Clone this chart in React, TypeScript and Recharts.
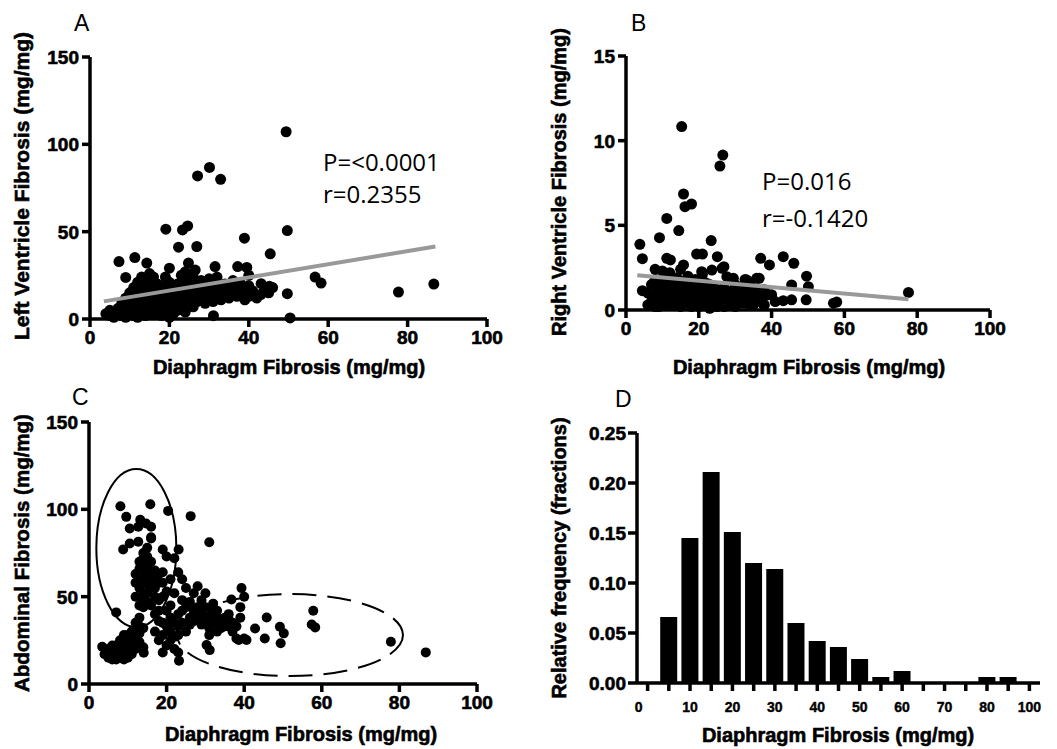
import React from 'react';
import {
  ScatterChart, Scatter, BarChart, Bar, XAxis, YAxis, ReferenceDot,
} from 'recharts';

// Panel A: diaphragm vs left ventricle fibrosis
const lvPoints: [number, number][] = [
  [4, 3], [5, 2], [5, 5], [6, 1], [6, 4], [7, 3], [7, 6], [8, 2], [8, 5], [8, 9], [9, 1], [9, 4], [9, 7], [9, 12],
  [10, 3], [10, 6], [10, 10], [10, 15], [11, 2], [11, 5], [11, 8], [11, 13], [11, 18], [12, 1], [12, 4], [12, 7],
  [12, 11], [12, 16], [12, 21], [13, 3], [13, 6], [13, 9], [13, 14], [13, 19], [13, 24], [14, 2], [14, 5], [14, 8],
  [14, 12], [14, 17], [14, 22], [15, 4], [15, 10], [15, 15], [15, 20], [15, 26], [16, 3], [16, 7], [16, 12], [16, 18],
  [16, 24], [17, 5], [17, 9], [17, 14], [17, 20], [18, 2], [18, 6], [18, 11], [18, 16], [19, 4], [19, 8], [19, 13],
  [19, 19], [19, 24], [20, 1], [20, 6], [20, 10], [20, 15], [20, 21], [21, 3], [21, 8], [21, 12], [21, 18], [22, 5],
  [22, 10], [22, 14], [22, 20], [23, 7], [23, 12], [23, 17], [23, 25], [24, 4], [24, 9], [24, 14], [24, 20], [24, 27],
  [25, 10], [25, 16], [25, 23], [26, 7], [26, 13], [26, 19], [26, 24], [27, 10], [27, 16], [28, 12], [28, 18], [28, 22],
  [29, 9], [29, 14], [29, 20], [30, 12], [30, 17], [30, 23], [31, 10], [31, 15], [31, 20], [32, 13], [32, 18], [32, 24],
  [33, 11], [33, 16], [34, 14], [34, 20], [35, 12], [35, 17], [36, 15], [36, 22], [37, 13], [37, 18], [38, 14], [38, 20],
  [39, 11], [39, 17], [40, 13], [40, 19], [40, 25], [41, 16], [42, 12], [43, 14], [44, 17], [45, 15], [46, 18],
  [49.4, 107.2], [30.1, 86.8], [27.1, 81.9], [32.9, 80], [19.1, 51.4], [23.3, 51], [24.6, 53.3], [22.3, 41.1],
  [26.9, 41.5], [38.9, 46.3], [49.7, 50.6], [45.4, 37.3], [7.3, 32.9], [11.3, 35.2], [14.3, 32], [9, 23.8], [20, 29.1],
  [37.2, 30], [39.5, 29.5], [31.5, 30], [56.7, 24], [58.2, 20.6], [77.7, 15.4], [86.6, 20], [49.7, 14.5], [50.4, 0.6],
  [31.1, 1.9], [43.1, 20.2], [45.2, 18.7], [24.8, 32], [26.5, 28],
];
const lvFit = [{ x: 3.5, y: 10.1 }, { x: 87, y: 41.5 }];

// Panel B: diaphragm vs right ventricle fibrosis
const rvPoints: [number, number][] = [
  [6, 0.3], [6, 1.0], [7, 0.5], [7, 1.5], [8, 0.2], [8, 0.9], [8, 1.8], [9, 0.4], [9, 1.2], [10, 0.7], [10, 1.6],
  [10, 2.3], [11, 0.3], [11, 1.0], [11, 1.9], [12, 0.5], [12, 1.3], [12, 2.2], [13, 0.8], [13, 1.6], [14, 0.3],
  [14, 1.1], [14, 1.9], [15, 0.6], [15, 1.4], [15, 2.4], [16, 0.9], [16, 1.7], [17, 0.4], [17, 1.2], [17, 2.0],
  [18, 0.7], [18, 1.5], [19, 0.3], [19, 1.0], [19, 1.8], [20, 0.6], [20, 1.3], [21, 0.9], [21, 2.1], [22, 0.4],
  [22, 1.1], [23, 0.1], [23, 0.7], [23, 1.5], [24, 0.3], [24, 1.0], [25, 0.6], [25, 1.2], [26, 0.4], [26, 0.9],
  [27, 1.3], [27, 0.2], [28, 0.7], [29, 1.1], [29, 0.4], [30, 0.8], [30, 1.5], [31, 0.5], [31, 1.2], [32, 0.9],
  [33, 0.4], [33, 1.4], [34, 0.8], [35, 1.2], [35, 0.3], [36, 0.7], [38, 1.2], [38, 0.9], [40, 0.9], [41, 0.5],
  [7, 0.9], [9, 0.2], [9, 1.7], [10, 1.1], [11, 0.6], [11, 1.4], [12, 0.9], [12, 1.7], [13, 0.3], [13, 1.2], [14, 0.7],
  [14, 1.5], [15, 0.2], [15, 1.0], [16, 0.5], [16, 1.3], [17, 0.8], [17, 1.6], [18, 0.2], [18, 1.1], [19, 0.6],
  [19, 1.4], [20, 0.2], [20, 0.9], [20, 1.7], [21, 0.5], [21, 1.3], [22, 0.8], [22, 1.6], [24, 0.7], [24, 1.4],
  [25, 0.2], [25, 0.9], [26, 1.2], [27, 0.6], [28, 0.3], [28, 1.0], [29, 0.7], [30, 0.2], [30, 1.1], [31, 0.8],
  [32, 0.4], [32, 1.3], [33, 0.9], [34, 0.3], [34, 1.5], [35, 0.7], [36, 1.1], [37, 0.6], [38, 0.3], [39, 0.9],
  [15.3, 10.83], [26.6, 9.15], [25.8, 8.5], [15.8, 6.85], [16.2, 6.1], [18, 6.26], [11.2, 5.41], [14.5, 4.69],
  [9.2, 4.27], [3.8, 3.88], [4.5, 3.03], [23.4, 4.1], [19.4, 3.3], [21, 3.3], [25.1, 3.15], [37, 3.05], [39.4, 2.66],
  [43.2, 3.15], [46.1, 2.76], [49.6, 2.0], [77.6, 1.04], [4.5, 1.14], [11.2, 3.05], [8, 2.4], [15.8, 2.66],
  [26.9, 2.56], [57.9, 0.47], [57, 0.4], [45.5, 0.6], [43.2, 0.55], [49.5, 0.6], [50.1, 1.38], [45.5, 1.48],
  [36.6, 1.87], [37.7, 0.35], [32.7, 1.8], [29.5, 1.87], [12.2, 2.96], [20.8, 2.26], [23.6, 2.36], [26.4, 2.46],
  [27.7, 1.97], [33.2, 1.77], [35.9, 1.87],
];
const rvFit = [{ x: 3.1, y: 2.05 }, { x: 77.6, y: 0.63 }];

// Panel C: diaphragm vs abdominal fibrosis
const abdPoints: [number, number][] = [
  [4, 17], [5, 15], [5, 20], [6, 16], [6, 19], [7, 14], [7, 18], [7, 22], [8, 15], [8, 20], [8, 25], [9, 16], [9, 19],
  [9, 28], [10, 15], [10, 21], [10, 25], [11, 17], [11, 22], [11, 30], [12, 20], [12, 26], [12, 35], [13, 24], [13, 29],
  [13, 38], [14, 21], [14, 32], [14, 44], [12, 50], [12, 58], [12, 63], [13, 66], [13, 70], [13, 55], [14, 48], [14, 60],
  [14, 72], [14, 75], [15, 52], [15, 57], [15, 62], [15, 68], [15, 78], [16, 45], [16, 55], [16, 64], [16, 84], [17, 40],
  [17, 60], [17, 65], [18, 36], [18, 48], [18, 63], [19, 58], [19, 64], [19, 77], [20, 33], [20, 42], [20, 53], [20, 73],
  [17, 30], [18, 25], [19, 18], [19, 28], [20, 22], [21, 25], [21, 38], [21, 60], [22, 27], [22, 20], [22, 52], [22, 72],
  [23, 18], [23, 33], [23, 40], [23, 64], [24, 35], [24, 48], [24, 60], [25, 30], [25, 44], [25, 55], [26, 38], [26, 47],
  [27, 42], [27, 52], [28, 39], [28, 56], [29, 40], [29, 48], [30, 36], [30, 44], [30, 52], [31, 32], [31, 39], [31, 28],
  [32, 35], [32, 42], [32, 46], [33, 30], [33, 38], [34, 36], [35, 38], [36, 33], [36, 37], [37, 30], [38, 33], [38, 26],
  [39, 38], [39, 44], [40, 26], [40, 50],
  [5, 18], [6, 14], [6, 22], [7, 16], [7, 20], [8, 17], [8, 23], [9, 14], [9, 22], [10, 18], [10, 28], [11, 19], [11, 26],
  [12, 23], [12, 30], [13, 33], [13, 45], [13, 60], [14, 52], [14, 65], [14, 68], [15, 47], [15, 73], [16, 58], [16, 70],
  [17, 50], [17, 55], [18, 42], [18, 58], [19, 35], [19, 50], [21, 30], [21, 45], [22, 35], [23, 28], [24, 42], [26, 34],
  [27, 36], [28, 44], [29, 34], [33, 42], [34, 32], [35, 33], [36, 40], [37, 35],
  [8.1, 101.8], [15.8, 102.9], [20.4, 99.1], [26.2, 96.1], [9.6, 95.7], [31, 81.2], [8.8, 77], [23.1, 77], [39.3, 54.9],
  [7, 41], [36.7, 48.4], [45.8, 38.1], [57.8, 41.9], [57.4, 34.1], [58.3, 32.4], [77.8, 24.2], [86.8, 18.1], [49.2, 32.8],
  [50.2, 29], [49.4, 23.3], [42.8, 31.8], [45.3, 26.1], [40.6, 25.2], [38.6, 25.2], [30.3, 22.3], [31.1, 19.4],
  [14.1, 17.9], [23.2, 13.3], [3.4, 21.3], [12.7, 90], [10.5, 89], [13.2, 94], [14.7, 91.9], [16, 90], [16, 83.3],
  [10.5, 80.4], [12.7, 81.4],
];

// Panel D: histogram of diaphragm fibrosis
const histBins = [0, 5, 10, 15, 20, 25, 30, 35, 40, 45, 50, 55, 60, 65, 70, 75, 80, 85, 90];
const histFreq = [0, 0.066, 0.145, 0.211, 0.151, 0.12, 0.114, 0.06, 0.042, 0.036, 0.024, 0.006, 0.012, 0, 0, 0, 0.006, 0.006, 0];
const histTickLabels = ['0', '', '10', '', '20', '', '30', '', '40', '', '50', '', '60', '', '70', '', '80', '', '100'];

const xTicks = [0, 20, 40, 60, 80, 100];

const FONT = '"Liberation Sans", Arial, Helvetica, sans-serif';
// the source figure has heavy, slightly blurred type: a thin stroke thickens the glyphs
const heavy = { stroke: '#000', strokeWidth: 0.6 };

const toXY = (pts: [number, number][]) => pts.map(([x, y]) => ({ x, y }));

const dot = (r: number) => (p: any) => <circle cx={p.cx} cy={p.cy} r={r} fill="#000" />;
const noDot = () => <g />;

const XTick = (props: any) => (
  <text x={props.x} y={props.y + 15} textAnchor="middle" fontSize={19} fontWeight={700} fontFamily={FONT} fill="#000" {...heavy}>
    {props.payload.value}
  </text>
);

const YTick = (props: any) => {
  const v = props.payload.value;
  return (
    <text x={props.x} y={props.y + 7} textAnchor="end" fontSize={19} fontWeight={700} fontFamily={FONT} fill="#000" {...heavy}>
      {props.decimals ? v.toFixed(props.decimals) : v}
    </text>
  );
};

const HistTick = (props: any) => {
  const { x, y, payload } = props;
  const i = histBins.indexOf(payload.value);
  return (
    <text x={x + (i === 0 ? -9 : 0)} y={y + 19} textAnchor="middle" fontSize={14} fontWeight={700} fontFamily={FONT}
      fill="#000" stroke="#000" strokeWidth={0.4}>
      {histTickLabels[i]}
    </text>
  );
};

const axisProps = {
  stroke: '#000',
  strokeWidth: 3.5,
  axisLine: { stroke: '#000', strokeWidth: 3.5 },
  tickLine: { stroke: '#000', strokeWidth: 3.5 },
  tickSize: 8,
};

const App: React.FC = () => {
  const histData = histBins.map((bin, i) => ({ bin, freq: histFreq[i] }));

  return (
    <div style={{ position: 'absolute', left: 0, top: 0, width: 1057, height: 749, background: '#fff' }}>
      {/* A */}
      <div style={{ position: 'absolute', left: 0, top: 0 }}>
        <ScatterChart width={510} height={350} margin={{ top: 57, right: 23, bottom: 1, left: 40 }}>
          <XAxis type="number" dataKey="x" domain={[0, 100]} ticks={xTicks} height={30} tick={<XTick />} {...axisProps} />
          <YAxis type="number" dataKey="y" domain={[0, 150]} ticks={[0, 50, 100, 150]} width={50} tick={<YTick />}
            {...axisProps} tickMargin={3} />
          <Scatter data={toXY(lvPoints)} shape={dot(5.5)} isAnimationActive={false} />
          <Scatter data={lvFit} line={{ stroke: '#999', strokeWidth: 4 }} shape={noDot} isAnimationActive={false} />
        </ScatterChart>
      </div>

      {/* B */}
      <div style={{ position: 'absolute', left: 520, top: 0 }}>
        <ScatterChart width={510} height={350} margin={{ top: 56, right: 40, bottom: 10, left: 56 }}>
          <XAxis type="number" dataKey="x" domain={[0, 100]} ticks={xTicks} height={30} tick={<XTick />} {...axisProps} />
          <YAxis type="number" dataKey="y" domain={[0, 15]} ticks={[0, 5, 10, 15]} width={50} tick={<YTick />}
            {...axisProps} tickMargin={3} />
          <Scatter data={toXY(rvPoints)} shape={dot(5.5)} isAnimationActive={false} />
          <Scatter data={rvFit} line={{ stroke: '#999', strokeWidth: 4 }} shape={noDot} isAnimationActive={false} />
        </ScatterChart>
      </div>

      {/* C */}
      <div style={{ position: 'absolute', left: 0, top: 375 }}>
        <ScatterChart width={510} height={374} margin={{ top: 47, right: 33, bottom: 35, left: 39 }}>
          <XAxis type="number" dataKey="x" domain={[0, 100]} ticks={xTicks} height={30} tick={<XTick />} {...axisProps} />
          <YAxis type="number" dataKey="y" domain={[0, 150]} ticks={[0, 50, 100, 150]} width={50} tick={<YTick />}
            {...axisProps} tickMargin={3} />
          <ReferenceDot x={12.2} y={77.8} r={1}
            shape={(p: any) => <ellipse cx={p.cx} cy={p.cy} rx={40} ry={79} fill="none" stroke="#000" strokeWidth={2} />} />
          <ReferenceDot x={51.8} y={28} r={1}
            shape={(p: any) => <ellipse cx={p.cx} cy={p.cy} rx={113} ry={41} fill="none" stroke="#000" strokeWidth={2} strokeDasharray="24 11" />} />
          <Scatter data={toXY(abdPoints)} shape={dot(5)} isAnimationActive={false} />
        </ScatterChart>
      </div>

      {/* D */}
      <div style={{ position: 'absolute', left: 520, top: 375 }}>
        <BarChart width={537} height={374} data={histData} margin={{ top: 58, right: 17, bottom: 36, left: 62 }}>
          <XAxis dataKey="bin" interval={0} height={30} tick={<HistTick />} {...axisProps} />
          <YAxis type="number" domain={[0, 0.25]} ticks={[0, 0.05, 0.1, 0.15, 0.2, 0.25]} width={55}
            tick={<YTick decimals={2} />} {...axisProps} tickSize={9} tickMargin={2} />
          <Bar dataKey="freq" fill="#000" barSize={17} isAnimationActive={false} />
        </BarChart>
      </div>

      {/* titles and annotations */}
      <svg width={1057} height={749} style={{ position: 'absolute', left: 0, top: 0, pointerEvents: 'none' }}>
        <g fontFamily={FONT} fill="#000" fontSize={23}>
          <text x={74} y={31}>A</text>
          <text x={631} y={31}>B</text>
          <text x={72} y={405}>C</text>
          <text x={615} y={407}>D</text>
        </g>
        <g fontFamily={FONT} fontWeight={700} fontSize={20} fill="#000" textAnchor="middle" {...heavy}>
          <text x={289} y={374}>Diaphragm Fibrosis (mg/mg)</text>
          <text x={809} y={374}>Diaphragm Fibrosis (mg/mg)</text>
          <text x={301} y={741}>Diaphragm Fibrosis (mg/mg)</text>
          <text x={838} y={742}>Diaphragm Fibrosis (mg/mg)</text>
          <text transform="translate(29,186) rotate(-90)" fontSize={21}>Left Ventricle Fibrosis (mg/mg)</text>
          <text transform="translate(566,182) rotate(-90)">Right Ventricle Fibrosis (mg/mg)</text>
          <text transform="translate(29,553) rotate(-90)" fontSize={20.5}>Abdominal Fibrosis (mg/mg)</text>
          <text transform="translate(566,558) rotate(-90)">Relative frequency (fractions)</text>
        </g>
        <g fontFamily='"Open Sans", sans-serif' fontSize={24} fill="#000">
          <text x={323} y={171}>P=&lt;0.0001</text>
          <text x={323} y={203}>r=0.2355</text>
          <text x={762} y={190}>P=0.016</text>
          <text x={762} y={227}>r=-0.1420</text>
        </g>
      </svg>
    </div>
  );
};

export default App;
